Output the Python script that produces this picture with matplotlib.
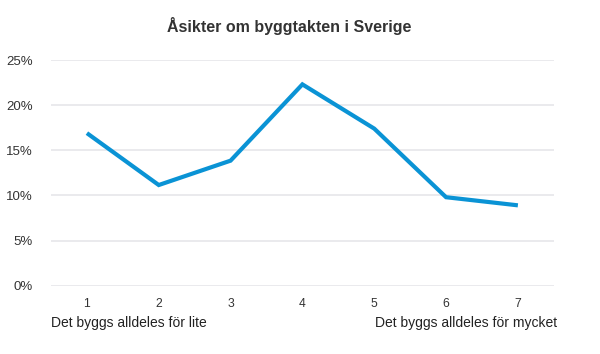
import matplotlib
matplotlib.use("Agg")
import matplotlib.pyplot as plt
from matplotlib.ticker import FuncFormatter

categories = ["1", "2", "3", "4", "5", "6", "7"]
values = [16.9, 11.15, 13.85, 22.3, 17.4, 9.8, 8.9]
yticks = [0, 5, 10, 15, 20, 25]
title = "Åsikter om byggtakten i Sverige"
left_label = "Det byggs alldeles för lite"
right_label = "Det byggs alldeles för mycket"

plt.rcParams['font.family'] = ['Liberation Sans', 'DejaVu Sans']

fig = plt.figure(figsize=(6, 3.54), dpi=100)
ax = fig.add_axes([0.085, 0.193, 0.838, 0.6375])

x = list(range(len(categories)))
ax.plot(x, values, color="#0a93d5", linewidth=3, solid_capstyle="butt", solid_joinstyle="miter", zorder=3)

ax.set_xlim(-0.5, len(categories) - 0.5)
ax.set_ylim(0, 25)
ax.set_yticks(yticks)
ax.yaxis.set_major_formatter(FuncFormatter(lambda v, p: f"{int(v)}%"))
ax.set_xticks(x)
ax.set_xticklabels(categories)

ax.grid(axis="y", color="#e6e6ea", linewidth=1.2)
ax.set_axisbelow(True)
for s in ax.spines.values():
    s.set_visible(False)
ax.tick_params(axis="both", length=0)
ax.tick_params(axis="y", labelsize=9.5, labelcolor="#333333", pad=13)
ax.tick_params(axis="x", labelsize=8.7, labelcolor="#333333", pad=9)

fig.text(288.7 / 600, 1 - 31.7 / 354, title, ha="center", va="baseline", fontsize=11.5,
         fontweight="bold", color="#333333")
fig.text(50.7 / 600, 1 - 327.3 / 354, left_label, ha="left", va="baseline", fontsize=10, color="#222222")
fig.text(556.7 / 600, 1 - 327.3 / 354, right_label, ha="right", va="baseline", fontsize=10, color="#222222")

fig.savefig("out.png", dpi=100, facecolor="white")
